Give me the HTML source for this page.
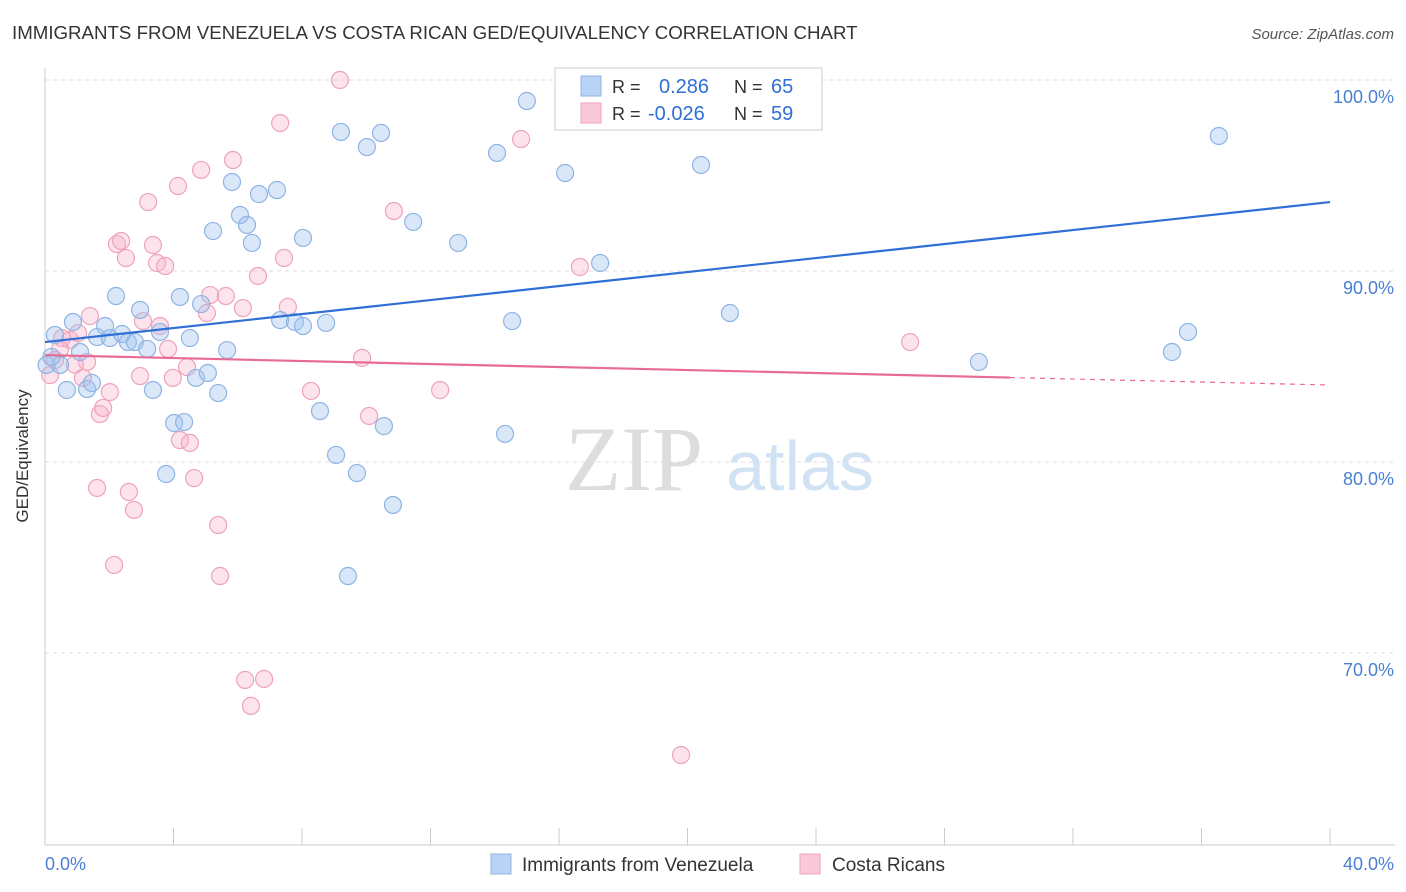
<!DOCTYPE html>
<html><head><meta charset="utf-8"><style>
body{margin:0;background:#fff;font-family:"Liberation Sans",sans-serif;}
svg{display:block}
</style></head><body>
<svg id="chart" width="1406" height="892">
<text x="12" y="39" font-size="18.7" fill="#333">IMMIGRANTS FROM VENEZUELA VS COSTA RICAN GED/EQUIVALENCY CORRELATION CHART</text>
<text x="1394" y="39" font-size="15" fill="#555" text-anchor="end" font-style="italic">Source: ZipAtlas.com</text>
<g id="grid"></g>
<g><text x="634" y="490" font-size="92" fill="#ddd" text-anchor="middle" font-family="Liberation Serif">ZIP</text><text x="800" y="490" font-size="70" fill="#d2e2f5" text-anchor="middle">atlas</text></g>
<line x1="45" y1="68" x2="45" y2="845" stroke="#ccc"/>
<line x1="45" y1="845" x2="1395" y2="845" stroke="#ccc"/>
<g id="ticks"></g>
<g id="pts"></g>
<g id="lines"></g>
<text x="28" y="456" font-size="17" fill="#333" text-anchor="middle" transform="rotate(-90 28 456)">GED/Equivalency</text>
<text x="45" y="870" font-size="18" fill="#4a7fd6">0.0%</text>
<text x="1394" y="870" font-size="18" fill="#4a7fd6" text-anchor="end">40.0%</text>
<g>
<rect x="555" y="68" width="267" height="62" fill="#fff" stroke="#ccc"/>
<rect x="581" y="76" width="20" height="20" fill="#b8d3f5" stroke="#8fb4e3"/>
<rect x="581" y="103" width="20" height="20" fill="#f9c9d8" stroke="#eea3bd"/>
<text x="612" y="93" font-size="18" fill="#333">R =</text><text x="659" y="93" font-size="20" fill="#2f6fd6">0.286</text>
<text x="734" y="93" font-size="18" fill="#333">N =</text><text x="771" y="93" font-size="20" fill="#2f6fd6">65</text>
<text x="612" y="120" font-size="18" fill="#333">R =</text><text x="648" y="120" font-size="20" fill="#2f6fd6">-0.026</text>
<text x="734" y="120" font-size="18" fill="#333">N =</text><text x="771" y="120" font-size="20" fill="#2f6fd6">59</text>
</g>
<g><rect x="491" y="854" width="20" height="20" fill="#b8d3f5" stroke="#8fb4e3"/><text x="522" y="871" font-size="19" fill="#333">Immigrants from Venezuela</text></g>
<g><rect x="800" y="854" width="20" height="20" fill="#f9c9d8" stroke="#eea3bd"/><text x="832" y="871" font-size="19" fill="#333">Costa Ricans</text></g>
</svg>
<script>
const yTicks=[100,90,80,70];
const yTickLabels=["100.0%","90.0%","80.0%","70.0%"];
const blueX=[0.31,0.47,0.68,0.87,1.09,1.31,1.46,1.62,1.87,2.02,2.21,2.40,2.58,2.80,2.96,3.18,3.36,3.58,3.77,4.02,4.20,4.33,4.51,4.70,4.86,5.07,5.23,5.39,5.67,5.82,6.07,6.29,6.44,6.66,7.22,7.32,7.78,8.03,8.03,8.56,8.75,9.06,9.21,9.43,9.71,10.02,10.46,10.55,10.83,11.46,12.86,14.07,14.32,14.54,15.00,16.19,17.28,20.42,21.32,29.07,35.08,35.58,36.54,0.05,0.2];
const blueY=[86.65,85.08,83.77,87.33,85.76,83.82,84.14,86.54,87.12,86.49,88.69,86.70,86.28,86.28,87.96,85.92,83.77,86.81,79.37,82.04,88.64,82.09,86.49,84.40,88.27,84.66,92.09,83.61,85.86,94.66,92.93,92.41,91.47,94.03,94.24,87.43,87.33,91.73,87.12,82.67,87.28,80.37,97.28,74.03,79.42,96.49,97.23,81.88,77.75,92.57,91.47,96.18,81.47,87.38,98.90,95.13,90.42,95.55,87.80,85.24,85.76,86.81,97.07,85.08,85.5];
const pinkX=[0.16,0.31,0.53,0.78,1.03,1.18,1.31,1.40,1.62,1.71,1.81,2.02,2.15,2.24,2.37,2.52,2.61,2.77,2.96,3.05,3.21,3.36,3.49,3.58,3.74,3.83,3.98,4.14,4.20,4.42,4.51,4.64,4.86,5.04,5.14,5.39,5.45,5.63,5.85,6.16,6.23,6.41,6.63,6.82,7.32,7.44,7.56,8.28,9.18,9.87,10.09,10.86,12.30,14.82,16.65,19.80,26.93,0.47,0.93];
const pinkY=[84.55,85.34,86.49,86.39,86.75,84.40,85.24,87.64,78.64,82.51,82.83,83.66,74.61,91.41,91.57,90.68,78.43,77.49,84.50,87.38,93.61,91.36,90.42,87.12,90.26,85.92,84.40,94.45,81.15,84.97,81.00,79.16,95.29,87.80,88.74,76.70,74.03,88.69,95.81,88.06,68.59,67.23,89.74,68.64,97.75,90.68,88.12,83.72,100.0,85.45,82.41,93.14,83.77,96.91,90.21,64.66,86.28,85.9,85.1];
const blueTrend=[86.28,93.61];
const pinkTrend=[85.60,84.03];
const pinkSolidEnd=30.04;
const xTicks=[0,4,8,12,16,20,24,28,32,36,40];
const X=v=>45+v*32.125, Y=v=>80+(100-v)*19.1;
const NS="http://www.w3.org/2000/svg";
function mk(t,a,p){const e=document.createElementNS(NS,t);for(const k in a)e.setAttribute(k,a[k]);p.appendChild(e);return e;}
const grid=document.getElementById('grid');
yTicks.forEach((v,i)=>{
 const l=mk('line',{x1:45,x2:1395,y1:Y(v),y2:Y(v),stroke:'#ddd','stroke-dasharray':'4,4'},grid);
 
 
 const t=mk('text',{x:1394,y:Y(v)+23,'font-size':18,fill:'#4a7fd6','text-anchor':'end'},grid);
 t.textContent=yTickLabels[i];
 
 
});
const tk=document.getElementById('ticks');
xTicks.forEach(v=>{
 const l=mk('line',{x1:X(v),x2:X(v),y1:828,y2:845,stroke:'#ccc'},tk);
 
 
});
const pts=document.getElementById('pts');
pinkX.forEach((x,i)=>{
 const c=mk('circle',{cx:X(x),cy:Y(pinkY[i]),r:8.5,fill:'rgba(245,175,200,0.35)',stroke:'#eea3bd','stroke-width':1.2},pts);
 
 
});
blueX.forEach((x,i)=>{
 const c=mk('circle',{cx:X(x),cy:Y(blueY[i]),r:8.5,fill:'rgba(160,195,240,0.4)',stroke:'#8fb4e3','stroke-width':1.2},pts);
 
 
});
const ln=document.getElementById('lines');
const bl=mk('line',{x1:X(0),y1:Y(blueTrend[0]),x2:X(40),y2:Y(blueTrend[1]),stroke:'#2f6fd6','stroke-width':2.2},ln);


const pAt=x=>pinkTrend[0]+(pinkTrend[1]-pinkTrend[0])*x/40;
const pl=mk('line',{x1:X(0),y1:Y(pAt(0)),x2:X(pinkSolidEnd),y2:Y(pAt(pinkSolidEnd)),stroke:'#e86a96','stroke-width':2.2},ln);


const pd=mk('line',{x1:X(pinkSolidEnd),y1:Y(pAt(pinkSolidEnd)),x2:X(40),y2:Y(pAt(40)),stroke:'#e86a96','stroke-width':1.2,'stroke-dasharray':'5,5'},ln);


</script>
</body></html>
